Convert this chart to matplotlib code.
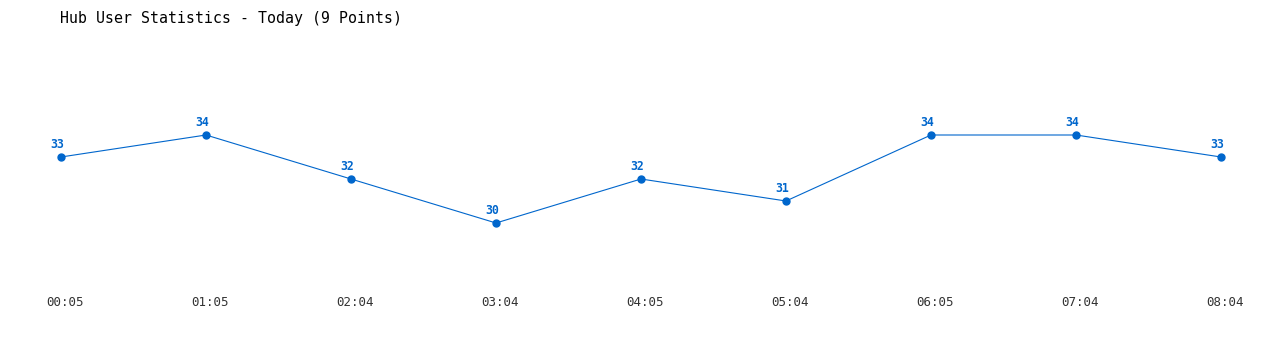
import matplotlib
matplotlib.use("Agg")
import matplotlib.pyplot as plt

# data
times = ["00:05", "01:05", "02:04", "03:04", "04:05", "05:04", "06:05", "07:04", "08:04"]
users = [33, 34, 32, 30, 32, 31, 34, 34, 33]
title = "Hub User Statistics - Today (9 Points)"

blue = "#0066cc"
mono = "DejaVu Sans Mono"

fig = plt.figure(figsize=(12.8, 3.5), dpi=100)
ax = fig.add_axes([0, 0, 1, 1])
ax.axis("off")

x = list(range(len(users)))
ax.plot(x, users, color=blue, lw=0.8, marker="o", ms=5, mec=blue, mfc=blue)

# pixel-ish layout: 145 px per step, 22 px per user
ax.set_xlim(-61 / 145, (1280 - 61) / 145)
ax.set_ylim(33 - (350 - 157) / 22, 33 + 157 / 22)

for xi, v in zip(x, users):
    ax.annotate(str(v), (xi, v), xytext=(-4, 13), textcoords="offset pixels",
                ha="center", va="center", color=blue, fontsize=8.3,
                fontweight="bold", family=mono)

# x labels under the line
for xi, t in zip(x, times):
    ax.annotate(t, (xi, 0), xycoords=("data", "figure fraction"),
                xytext=(4, 48), textcoords="offset pixels",
                ha="center", va="center", color="#333333", fontsize=9, family=mono)

fig.text(60 / 1280, 1 - 18 / 350, title, ha="left", va="center",
         fontsize=10.7, family=mono, color="#000000")

fig.savefig("out.png", dpi=100)
